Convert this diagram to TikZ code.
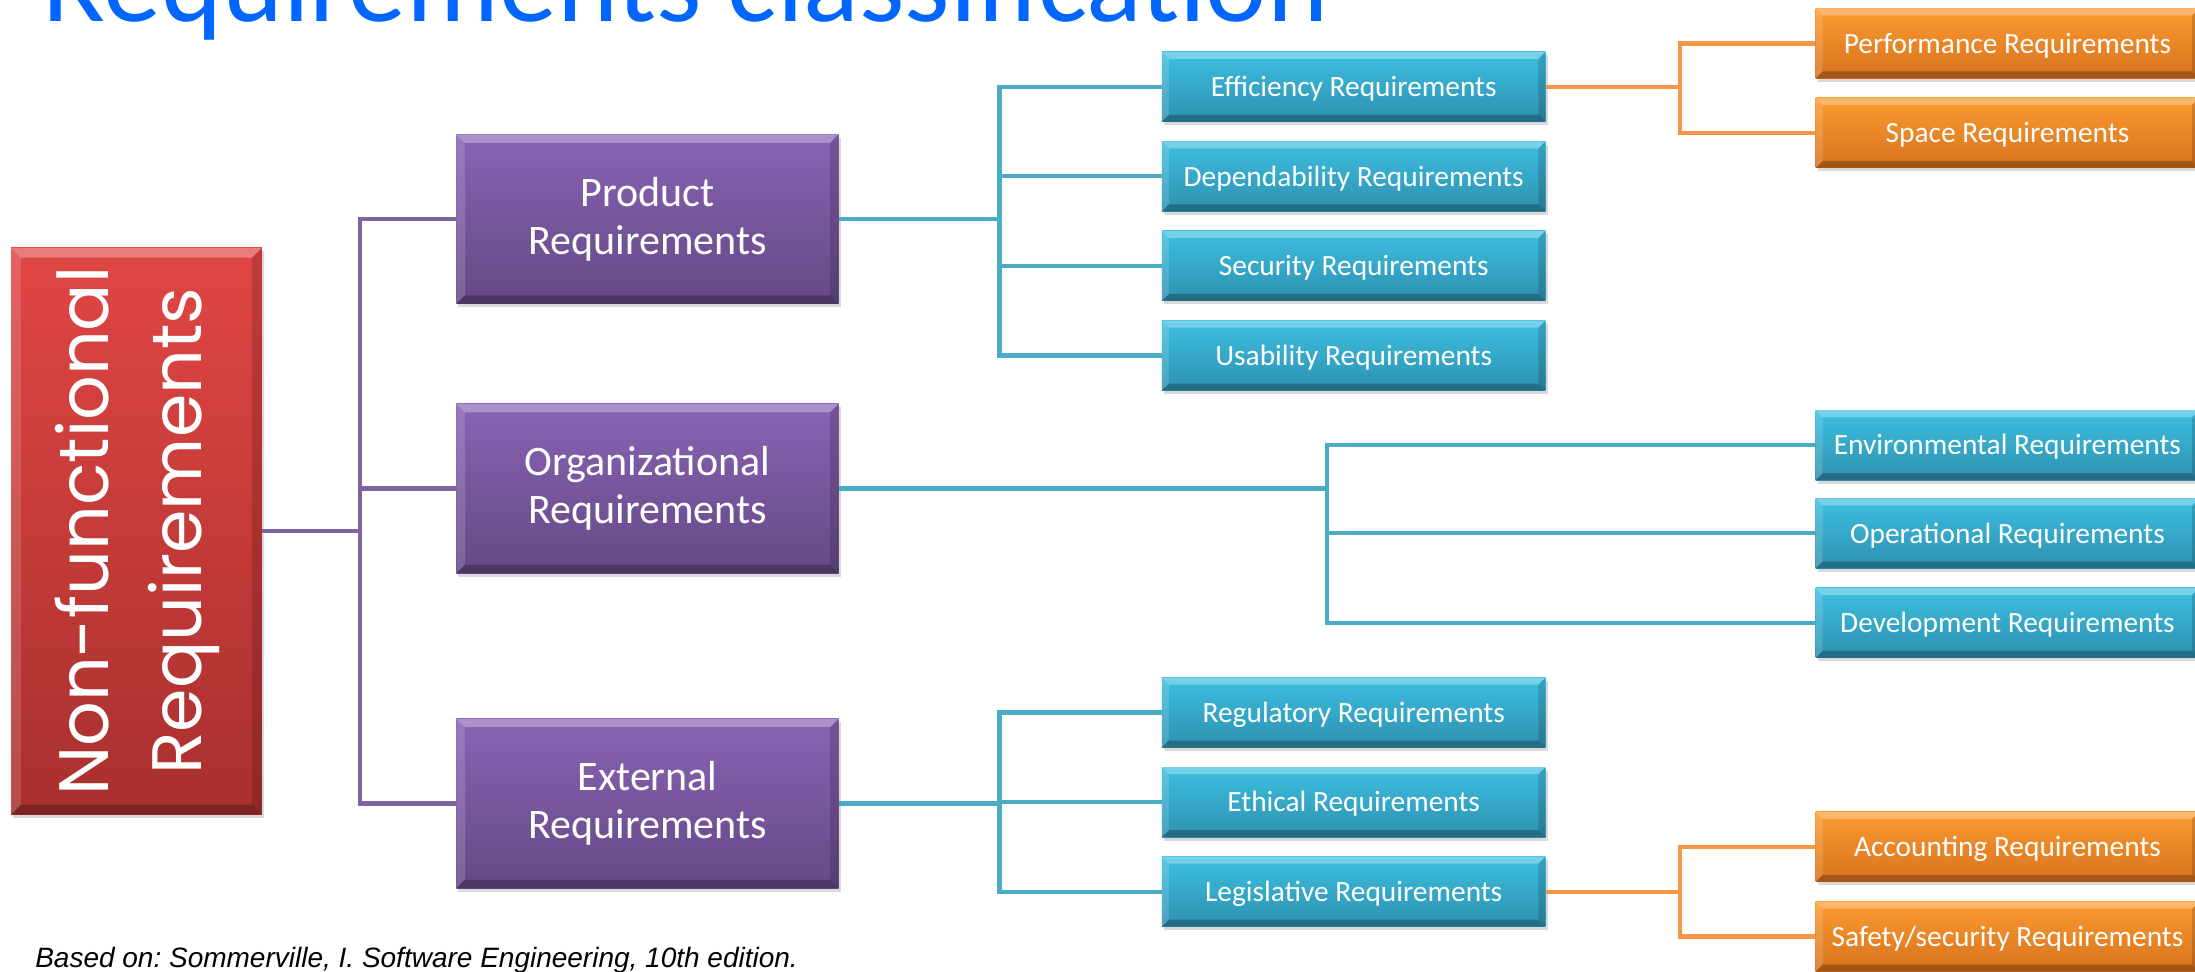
\documentclass[tikz,border=0pt]{standalone}
\usepackage{fontspec}
\setmainfont{Carlito}
\newfontfamily\nfrfont{Poppins}
\newfontfamily\notefont{Liberation Sans}
\usetikzlibrary{shadows}

\definecolor{titleblue}{HTML}{0066FF}
\definecolor{nfrtop}{HTML}{E04644}
\definecolor{nfrbot}{HTML}{A8302E}
\definecolor{grptop}{HTML}{8963B4}
\definecolor{grpbot}{HTML}{654985}
\definecolor{subtop}{HTML}{3DBFE0}
\definecolor{subbot}{HTML}{2E90B0}
\definecolor{leaftop}{HTML}{FA9B30}
\definecolor{leafbot}{HTML}{D8721E}
\definecolor{lnpurple}{HTML}{8064A2}
\definecolor{lnblue}{HTML}{4BACC6}
\definecolor{lnorange}{HTML}{F79646}

\tikzset{
  bevel/.style={path picture={
      \fill[white, opacity=0.30] (path picture bounding box.north west)
        -- (path picture bounding box.north east)
        -- ([shift={(-#1,-#1)}]path picture bounding box.north east)
        -- ([shift={(#1,-#1)}]path picture bounding box.north west) -- cycle;
      \fill[white, opacity=0.15] (path picture bounding box.north west)
        -- ([shift={(#1,-#1)}]path picture bounding box.north west)
        -- ([shift={(#1,#1)}]path picture bounding box.south west)
        -- (path picture bounding box.south west) -- cycle;
      \fill[black, opacity=0.25] (path picture bounding box.south west)
        -- (path picture bounding box.south east)
        -- ([shift={(-#1,#1)}]path picture bounding box.south east)
        -- ([shift={(#1,#1)}]path picture bounding box.south west) -- cycle;
      \fill[black, opacity=0.15] (path picture bounding box.north east)
        -- ([shift={(-#1,-#1)}]path picture bounding box.north east)
        -- ([shift={(-#1,#1)}]path picture bounding box.south east)
        -- (path picture bounding box.south east) -- cycle;
    }},
  box/.style={text=white, inner sep=0pt, bevel=#1,
    drop shadow={opacity=0.3, shadow xshift=1.5pt, shadow yshift=-2.5pt}},
  nfrbox/.style={box=7pt, top color=nfrtop, bottom color=nfrbot,
    minimum width=179pt, minimum height=405pt},
  grpbox/.style={box=6pt, top color=grptop, bottom color=grpbot,
    minimum width=273pt, minimum height=121pt, align=center,
    font=\fontsize{30}{34}\selectfont},
  subbox/.style={box=5pt, top color=subtop, bottom color=subbot,
    minimum width=274pt, minimum height=50pt,
    text height=15pt, text depth=1pt,
    font=\fontsize{21}{25}\selectfont},
  leafbox/.style={subbox, top color=leaftop, bottom color=leafbot},
  purpleline/.style={line width=3pt, color=lnpurple},
  blueline/.style={line width=3pt, color=lnblue},
  orangeline/.style={line width=3pt, color=lnorange}
}

\begin{document}
\begin{tikzpicture}[x=1pt, y=-1pt]

  \useasboundingbox (0,0) rectangle (1568,694);
  \clip (0,0) rectangle (1568,694);

  % title, cut at the top of the slide
  \node[anchor=base west, text=titleblue, inner sep=0pt,
        font=\fontsize{83}{90}\selectfont] (title) at (30,15)
        {Requirements classification};
  \node[anchor=base west, inner sep=0pt,
        font=\notefont\itshape\fontsize{20}{24}\selectfont] (src) at (25,691)
        {\frenchspacing Based on: Sommerville, I. Software Engineering, 10th edition.};

  % root box
  \node[nfrbox] (nfr) at (97.5,379.5)
    {\rotatebox{90}{\nfrfont\fontsize{50}{66}\selectfont
      \begin{tabular}{@{}c@{}}Non-functional\\Requirements\end{tabular}}};

  % first level
  \node[grpbox] (prod) at (462.5,156.5) {Product\\Requirements};
  \node[grpbox] (org) at (462.5,349) {Organizational\\Requirements};
  \node[grpbox] (ext) at (462.5,574) {External\\Requirements};

  % second level
  \node[subbox] (eff) at (967,62) {Efficiency Requirements};
  \node[subbox] (dep) at (967,126) {Dependability Requirements};
  \node[subbox] (sec) at (967,190) {Security Requirements};
  \node[subbox] (usa) at (967,254) {Usability Requirements};

  \node[subbox] (env) at (1434,318) {Environmental Requirements};
  \node[subbox] (ope) at (1434,381) {Operational Requirements};
  \node[subbox] (dev) at (1434,445) {Development Requirements};

  \node[subbox] (reg) at (967,509) {Regulatory Requirements};
  \node[subbox] (eth) at (967,573) {Ethical Requirements};
  \node[subbox] (leg) at (967,637) {Legislative Requirements};

  % third level
  \node[leafbox] (perf) at (1434,31) {Performance Requirements};
  \node[leafbox] (spa) at (1434,95) {Space Requirements};
  \node[leafbox] (acc) at (1434,605) {Accounting Requirements};
  \node[leafbox] (saf) at (1434,669) {Safety/security Requirements};

  % junction points of the trees
  \coordinate (j0) at (257,379.5);
  \coordinate (jp) at (714,156.5);
  \coordinate (jo) at (948,349);
  \coordinate (je) at (714,574);
  \coordinate (jf) at (1200,62);
  \coordinate (jl) at (1200,637);

  \draw[purpleline] (nfr.east) -- (j0);
  \foreach \n in {prod,org,ext}
    \draw[purpleline] (j0) |- (\n.west);

  \draw[blueline] (prod.east) -- (jp);
  \foreach \n in {eff,dep,sec,usa}
    \draw[blueline] (jp) |- (\n.west);

  \draw[blueline] (org.east) -- (jo);
  \foreach \n in {env,ope,dev}
    \draw[blueline] (jo) |- (\n.west);

  \draw[blueline] (ext.east) -- (je);
  \foreach \n in {reg,eth,leg}
    \draw[blueline] (je) |- (\n.west);

  \draw[orangeline] (eff.east) -- (jf);
  \foreach \n in {perf,spa}
    \draw[orangeline] (jf) |- (\n.west);

  \draw[orangeline] (leg.east) -- (jl);
  \foreach \n in {acc,saf}
    \draw[orangeline] (jl) |- (\n.west);
\end{tikzpicture}
\end{document}
